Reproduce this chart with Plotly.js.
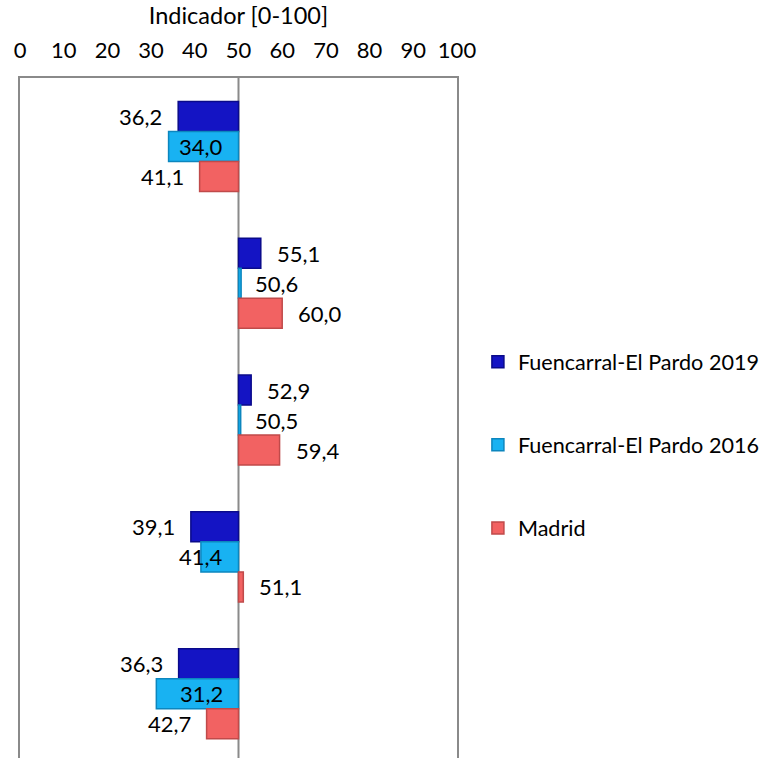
<!DOCTYPE html>
<html>
<head>
<meta charset="utf-8">
<script src="https://cdn.plot.ly/plotly-3.0.1.min.js"></script>
<style>html,body{margin:0;padding:0;background:#fff;}#chart{width:761px;height:758px;}</style>
</head>
<body>
<div id="chart"></div>
<script>
const categories = ["Grupo 1", "Grupo 2", "Grupo 3", "Grupo 4", "Grupo 5"];
const seriesNames = ["Fuencarral-El Pardo 2019", "Fuencarral-El Pardo 2016", "Madrid"];
const fep2019 = [36.2, 55.1, 52.9, 39.1, 36.3];
const fep2016 = [34.0, 50.6, 50.5, 41.4, 31.2];
const madrid = [41.1, 60.0, 59.4, 51.1, 42.7];
const xTicks = [0, 10, 20, 30, 40, 50, 60, 70, 80, 90, 100];
const baseValue = 50;

const fills = ["#1414C4", "#18B2F2", "#F26262"];
const edges = ["#0A0A8A", "#0C86BE", "#C04A4A"];
const allSeries = [fep2019, fep2016, madrid];
const labelMode = ["end", "base", "end"];

const FONT = "Lato, 'Open Sans', sans-serif";
const bargap = 0.342;
const yRange = [4.47, -0.5];
const plotH = 758 - 78;

const traces = allSeries.map((vals, i) => ({
  type: "bar",
  orientation: "h",
  name: seriesNames[i],
  y: categories,
  x: vals.map(v => v - baseValue),
  base: baseValue,
  marker: {color: fills[i], line: {color: edges[i], width: 1.5}},
  legendgroup: "g" + i,
  hoverinfo: "skip"
}));

const pxPerCat = plotH / Math.abs(yRange[0] - yRange[1]);
const barPx = pxPerCat * (1 - bargap) / 3;
const fmt = v => v.toFixed(1).replace(".", ",");

const annotations = [];
allSeries.forEach((vals, i) => {
  vals.forEach((v, j) => {
    const neg = v < baseValue;
    annotations.push({
      x: labelMode[i] === "end" ? v : baseValue,
      y: categories[j],
      xref: "x", yref: "y",
      text: fmt(v),
      showarrow: false,
      xanchor: neg ? "right" : "left",
      yanchor: "middle",
      xshift: neg ? -14 : 14,
      yshift: (1 - i) * barPx,
      font: {family: FONT, size: 22, color: "#000"}
    });
  });
});

const layout = {
  width: 761, height: 758,
  margin: {l: 20, r: 304, t: 78, b: 0, autoexpand: false},
  paper_bgcolor: "#fff", plot_bgcolor: "rgba(0,0,0,0)",
  barmode: "group",
  bargap: bargap,
  bargroupgap: 0,
  font: {family: FONT, size: 22, color: "#000"},
  xaxis: {
    side: "top",
    range: [0, 100],
    tickvals: xTicks,
    ticktext: xTicks.map(String),
    ticks: "",
    showgrid: false,
    zeroline: false,
    showline: true, linecolor: "#8a8a8a", linewidth: 2,
    ticklabelstandoff: 9,
    tickfont: {family: FONT, size: 22, color: "#000"},
    title: {text: "Indicador [0-100]", font: {family: FONT, size: 23.5, color: "#000"}, standoff: 5}
  },
  yaxis: {
    type: "category",
    categoryorder: "array", categoryarray: categories,
    range: yRange,
    showticklabels: false, ticks: "",
    showgrid: false, zeroline: false,
    showline: true, mirror: true, linecolor: "#8a8a8a", linewidth: 2
  },
  shapes: [{
    type: "line", xref: "x", yref: "paper",
    x0: baseValue, x1: baseValue, y0: 0, y1: 1,
    line: {color: "#8a8a8a", width: 2}, layer: "below"
  }],
  legend: {
    x: 0.628, xanchor: "left", xref: "container",
    y: 0.46, yanchor: "middle",
    traceorder: "grouped",
    tracegroupgap: 52,
    font: {family: FONT, size: 21.6, color: "#000"},
    itemwidth: 30,
    bgcolor: "rgba(0,0,0,0)"
  },
  annotations: annotations,
  showlegend: true
};

Plotly.newPlot("chart", traces, layout, {staticPlot: true, displayModeBar: false});
</script>
</body>
</html>
